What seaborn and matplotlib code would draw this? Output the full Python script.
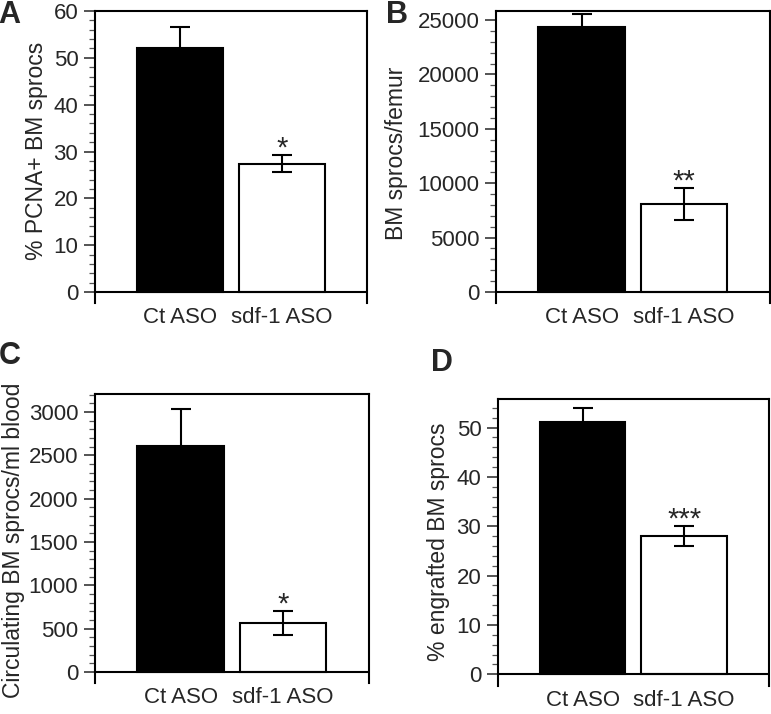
import matplotlib
matplotlib.use("Agg")
import matplotlib.pyplot as plt
import numpy as np
import pandas as pd
import seaborn as sns
from matplotlib.ticker import MultipleLocator, FixedLocator

groups = ["Ct ASO", "sdf-1 ASO"]

pcna_mean = [52.0, 27.4]
pcna_err = [4.6, 1.8]

femur_mean = [24330, 8060]
femur_err = [1230, 1470]

blood_mean = [2604, 567]
blood_err = [433, 135]

engraft_mean = [51.1, 28.0]
engraft_err = [2.9, 2.0]

stars = ["*", "**", "*", "***"]

sns.set_theme(style="white")
plt.rcParams["font.family"] = ["Liberation Sans", "DejaVu Sans"]

FS = 16


def bar_panel(fig, rect, means, errs, ylabel, ylim, major, minor,
              star, letter, letter_xy, label_xy):
    ax = fig.add_axes(rect)
    df = pd.DataFrame({"group": groups, "value": means})
    sns.barplot(data=df, x="group", y="value", hue="group",
                palette=["black", "white"], legend=False, errorbar=None,
                width=0.845, edgecolor="black", linewidth=1.5, ax=ax)
    ax.errorbar(x=[0, 1], y=means, yerr=errs, fmt="none", ecolor="black",
                elinewidth=1.5, capsize=7, capthick=1.5, zorder=5)
    ax.axhline(0, color="black", lw=1.5, zorder=6)
    ax.set_xlim(-0.835, 1.838)
    ax.set_ylim(*ylim)
    ax.yaxis.set_major_locator(MultipleLocator(major))
    ax.yaxis.set_minor_locator(FixedLocator(np.arange(0, ylim[1], minor)))
    ax.tick_params(axis="y", which="major", direction="out", length=8,
                   width=1.1, labelsize=FS, pad=4, left=True)
    ax.tick_params(axis="y", which="minor", direction="out", length=4,
                   width=0.9, color="#555555", left=True)
    ax.tick_params(axis="x", length=0, labelsize=FS, pad=3)
    ax.set_xlabel("")
    ax.set_ylabel(ylabel, fontsize=FS + 0.5)
    ax.yaxis.set_label_coords(*label_xy)
    ax.spines["bottom"].set_visible(False)
    for s in ["left", "right", "top"]:
        ax.spines[s].set_color("black")
        ax.spines[s].set_linewidth(1.5)
    ax.annotate(star, xy=(1, means[1] + errs[1]), xytext=(0, -5),
                textcoords="offset points", ha="center", va="bottom",
                fontsize=21)
    fig.text(letter_xy[0], letter_xy[1], letter, fontsize=22,
             fontweight="bold", ha="left", va="top")
    return ax


fig = plt.figure(figsize=(7.71, 7.14), dpi=100)

bar_panel(fig, [0.1232, 0.5756, 0.3528, 0.4090], pcna_mean, pcna_err,
          "% PCNA+ BM sprocs", (-2.35, 60), 10, 2, stars[0], "A",
          (-0.002, 1.0), (-0.173, 0.52))
bar_panel(fig, [0.6433, 0.5756, 0.3554, 0.4090], femur_mean, femur_err,
          "BM sprocs/femur", (-1011, 25827), 5000, 1000, stars[1], "B",
          (0.500, 1.0), (-0.321, 0.514))
bar_panel(fig, [0.1232, 0.0434, 0.3554, 0.4048], blood_mean, blood_err,
          "Circulating BM sprocs/ml blood", (-127, 3208), 500, 100,
          stars[2], "C", (-0.002, 0.523), (-0.255, 0.495))
bar_panel(fig, [0.6459, 0.0392, 0.3515, 0.4020], engraft_mean, engraft_err,
          "% engrafted BM sprocs", (-2.37, 55.8), 10, 2, stars[3], "D",
          (0.559, 0.513), (-0.177, 0.503))

fig.savefig("out.png", dpi=100)
